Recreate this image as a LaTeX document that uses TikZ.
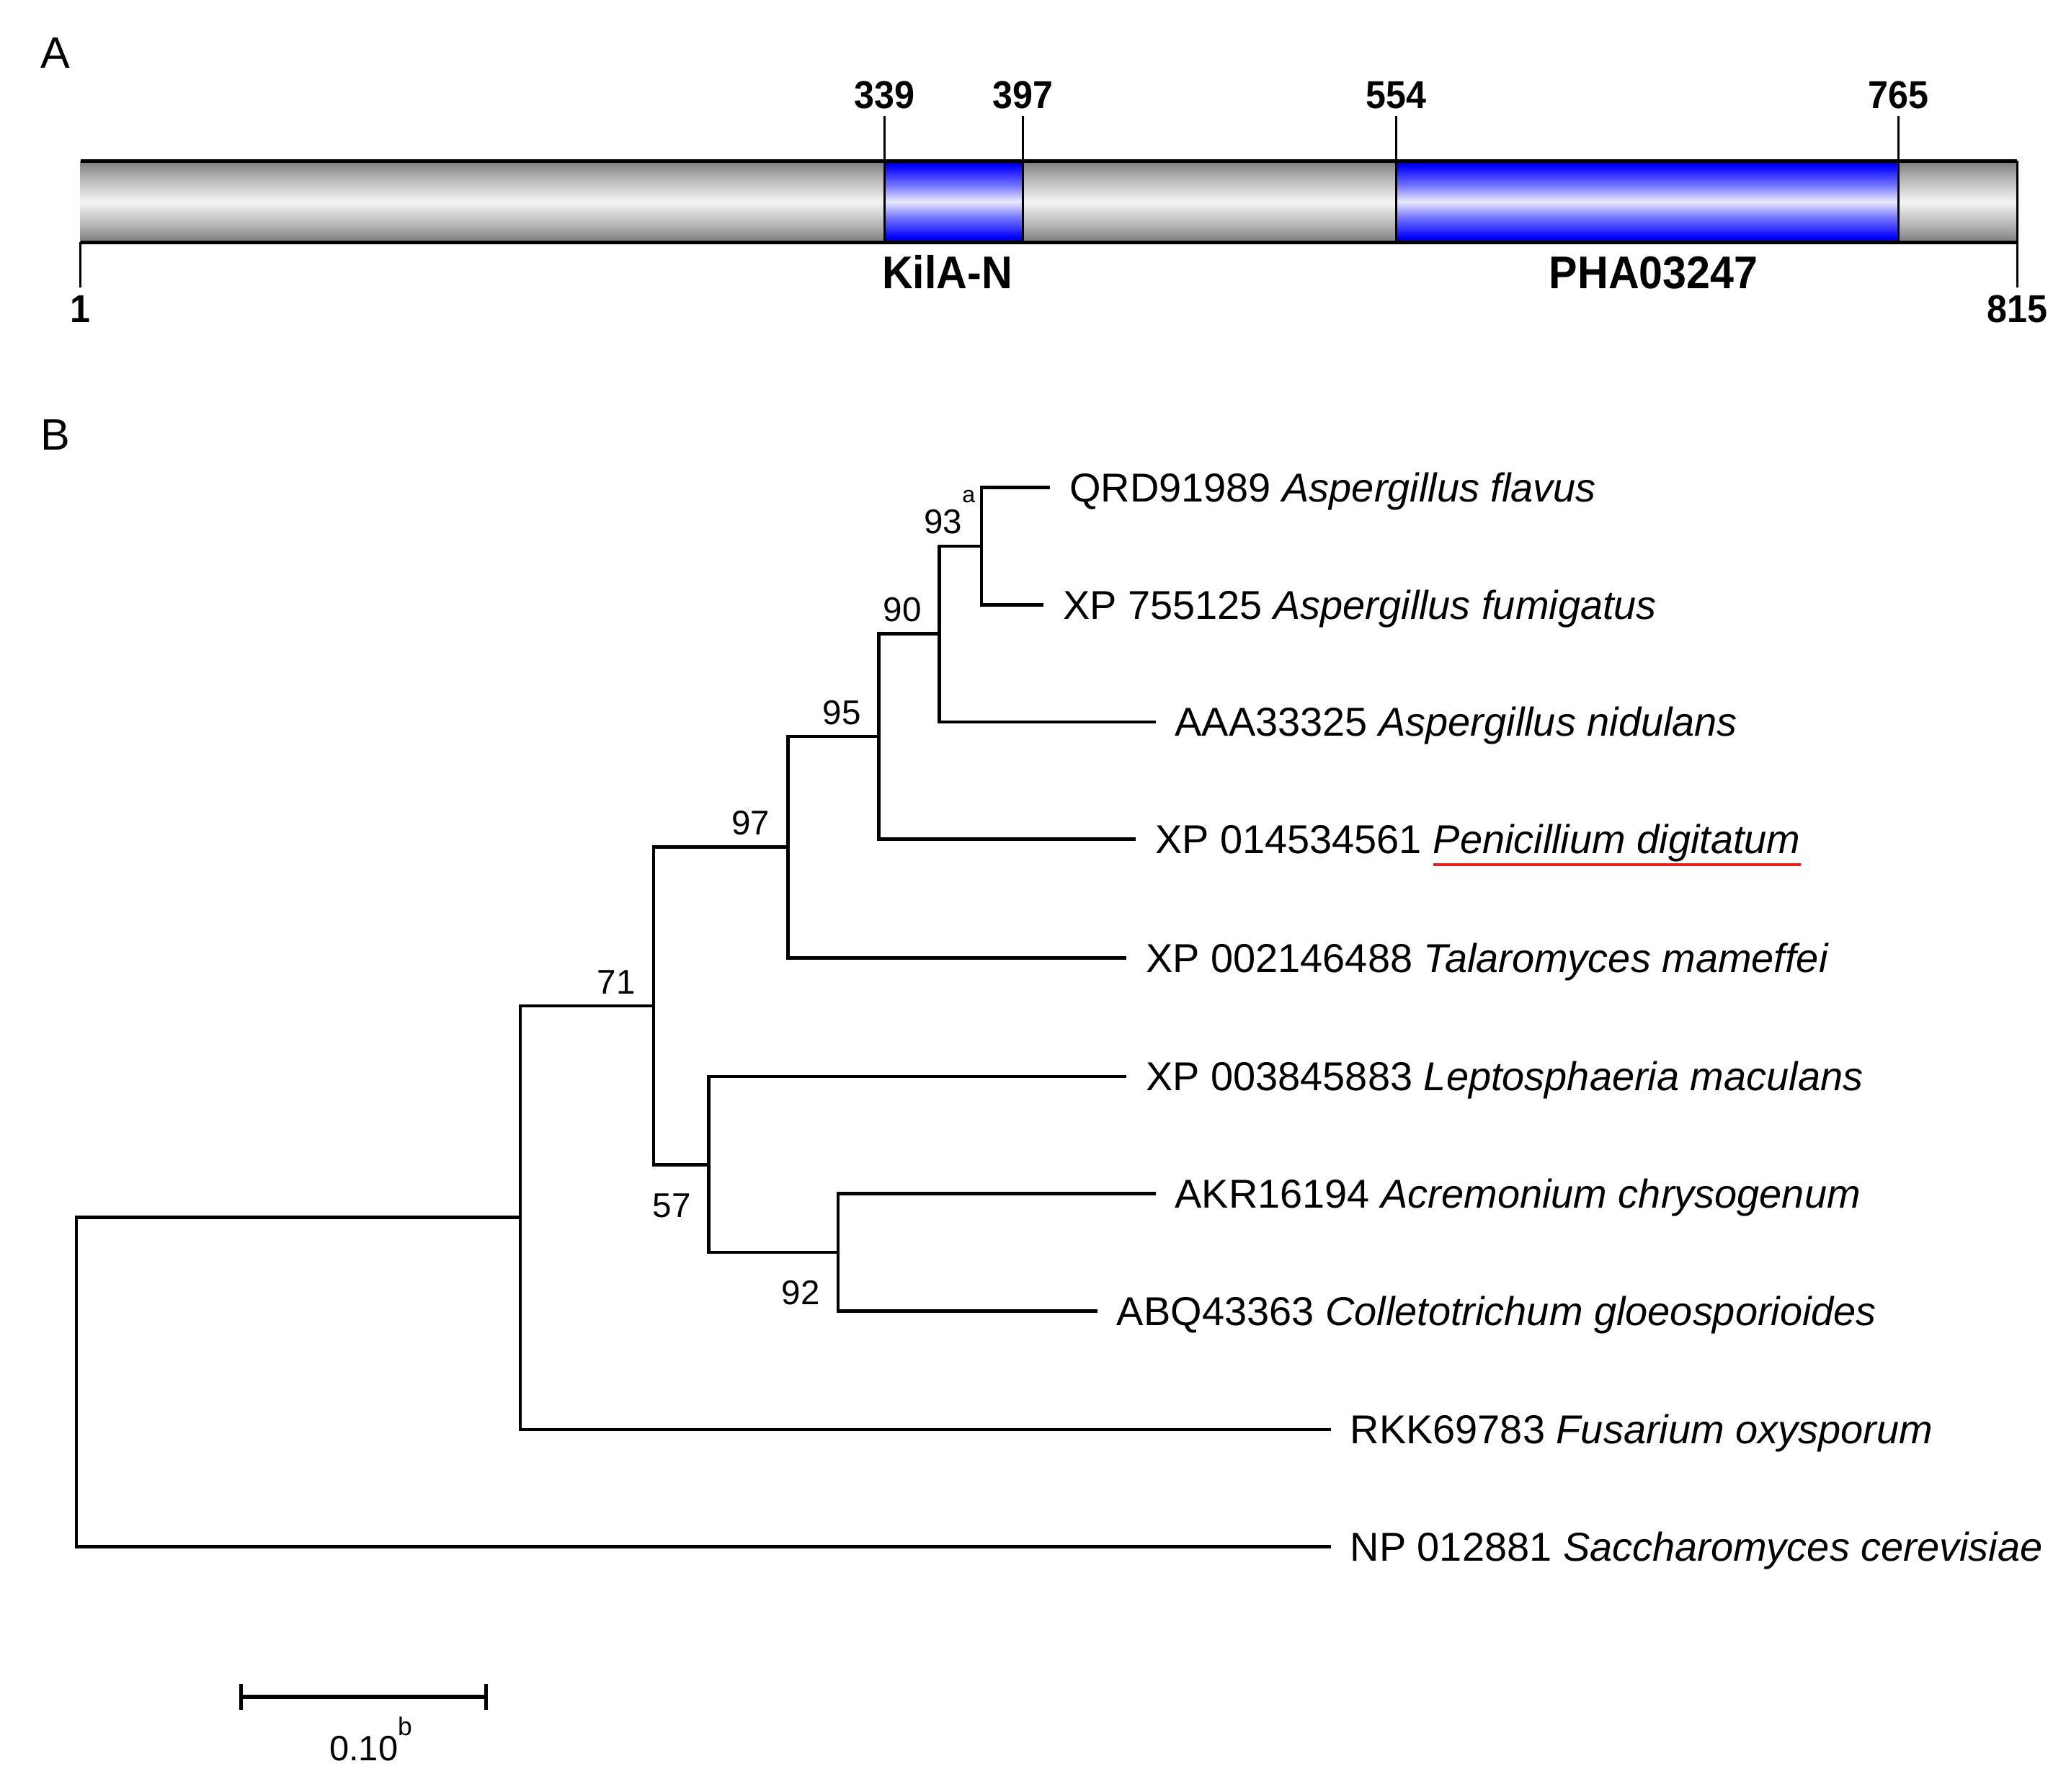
\documentclass[tikz,border=0pt]{standalone}
\usepackage{fontspec}
\setmainfont{Liberation Sans}
\newfontfamily\narrowsans[FakeStretch=0.93]{Liberation Sans}
\usepackage{tikz}
\usetikzlibrary{positioning}

\definecolor{markred}{RGB}{228,32,32}

% shadings for the protein bar
\pgfdeclareverticalshading{graybar}{100bp}{color(0bp)=(black!52); color(25bp)=(black!52);
  color(34bp)=(black!32); color(50bp)=(white!96!black); color(66bp)=(black!32);
  color(75bp)=(black!52); color(100bp)=(black!52)}
\pgfdeclareverticalshading{bluebar}{100bp}{color(0bp)=(blue!45!black); color(25bp)=(blue!45!black);
  color(28bp)=(blue); color(40bp)=(blue!55!white); color(50bp)=(blue!8!white);
  color(60bp)=(blue!55!white); color(72bp)=(blue); color(75bp)=(blue!45!black); color(100bp)=(blue!45!black)}

\newsavebox\ulbox
\newcommand{\redunder}[1]{\sbox\ulbox{#1}\rlap{\color{markred}\rule[-2.7pt]{\wd\ulbox}{0.65pt}}\usebox\ulbox}

\tikzstyle{panel}=[font=\fontsize{9.5}{11}\selectfont, inner sep=0pt]
\tikzstyle{num}=[font=\narrowsans\bfseries\fontsize{8.4}{10}\selectfont
,inner xsep=0pt, inner ysep=0.05cm
,text height=6pt, text depth=0pt
]
\tikzstyle{domlabel}=[font=\narrowsans\bfseries\fontsize{9.9}{12}\selectfont, inner sep=0pt, text depth=0pt]
\tikzstyle{tick}=[draw, line width=0.45pt]
\tikzstyle{barline}=[draw, line width=0.8pt]
\tikzstyle{leaf}=[anchor=west, font=\fontsize{8.7}{10}\selectfont
,inner xsep=0.14cm, inner ysep=0pt
,text height=6.2pt, text depth=0pt
]
\tikzstyle{boot}=[font=\fontsize{7.4}{9}\selectfont, inner sep=0pt, text height=5.3pt, text depth=0pt]
\tikzstyle{branch}=[draw, line width=0.7pt]
\tikzstyle{scalebar}=[draw, line width=0.85pt]

\begin{document}
\begin{tikzpicture}[x=0.01cm,y=-0.01cm]
    \useasboundingbox (0,0) rectangle (1568,1360);

    % A: domain map of the protein
    \node[panel] (pA) at (42,40) {A};
    \coordinate (barbot) at (0,184);
    \foreach \xa/\xb/\sh in {61/671/graybar, 671/776/bluebar, 776/1059/graybar, 1059/1440/bluebar, 1440/1531/graybar}
        \shade[shading=\sh] (\xa,122) rectangle (\xb,184);

    \foreach \res in {339,397,554,765}{
        \pgfmathsetmacro\xr{61+(\res-1)/814*1470}
        \node[num, anchor=south] (t\res) at (\xr,88) {\res};
        \path[tick] (t\res.south) -- (t\res.south |- barbot);
    }
    \node[num, anchor=north] (t1) at (61,218) {1};
    \node[num, anchor=north] (t815) at (1531,218) {815};
    \path[tick] (t1.north) -- (t1.north |- barbot);
    \path[tick] (t815.north) -- (1531,122);
    \path[barline] (61,122) -- (1531,122);
    \path[barline] (61,184) -- (1531,184);

    \node[domlabel, anchor=base] (kila) at (719,219) {KilA-N};
    \node[domlabel, anchor=base] (pha) at (1255,219) {PHA03247};

    % B: the tree
    \node[panel] (pB) at (42,330) {B};

    % First the inner nodes
    \coordinate (n1) at (745,414.5);
    \coordinate (n2) at (713,481);
    \coordinate (n3) at (667,559);
    \coordinate (n4) at (598,643);
    \coordinate (n5) at (636,950.5);
    \coordinate (n6) at (538,884);
    \coordinate (n7) at (496,763.5);
    \coordinate (n8) at (395,924);
    \coordinate (root) at (58,1049);

    % then the leaves
    \node[leaf] (flav) at (797,370) {QRD91989 \textit{Aspergillus flavus}};
    \node[leaf] (fum) at (792,459) {XP 755125 \textit{Aspergillus fumigatus}};
    \node[leaf] (nid) at (877,548) {AAA33325 \textit{Aspergillus nidulans}};
    \node[leaf] (pen) at (862,637) {XP 014534561 \redunder{\textit{Penicillium digitatum}}};
    \node[leaf] (tal) at (855,727) {XP 002146488 \textit{Talaromyces mameffei}};
    \node[leaf] (lep) at (855,817) {XP 003845883 \textit{Leptosphaeria maculans}};
    \node[leaf] (acr) at (877,906) {AKR16194 \textit{Acremonium chrysogenum}};
    \node[leaf] (col) at (833,995) {ABQ43363 \textit{Colletotrichum gloeosporioides}};
    \node[leaf] (fus) at (1010,1085) {RKK69783 \textit{Fusarium oxysporum}};
    \node[leaf] (sac) at (1010,1174) {NP 012881 \textit{Saccharomyces cerevisiae}};

    % Connect them with branches
    \foreach \parent/\child in {n1/flav, n1/fum, n2/n1, n2/nid, n3/n2, n3/pen, n4/n3, n4/tal,
        n5/acr, n5/col, n6/lep, n6/n5, n7/n4, n7/n6, n8/n7, n8/fus, root/n8, root/sac}
        \path[branch] (\parent) |- (\child);

    % bootstrap values
    \node[boot, above left=0.09cm and 0.14cm of n1] (b93) {93\rlap{\raisebox{6.6pt}{\fontsize{5}{5}\selectfont a}}};
    \node[boot, above left=0.085cm and 0.13cm of n2] (b90) {90};
    \node[boot, above left=0.085cm and 0.13cm of n3] (b95) {95};
    \node[boot, above left=0.085cm and 0.13cm of n4] (b97) {97};
    \node[boot, above left=0.085cm and 0.13cm of n7] (b71) {71};
    \node[boot, below left=0.205cm and 0.13cm of n6] (b57) {57};
    \node[boot, below left=0.205cm and 0.13cm of n5] (b92) {92};

    % scale bar
    \coordinate (sbl) at (183,1288);
    \coordinate (sbr) at (369,1288);
    \path[scalebar] (sbl) -- coordinate[midway] (sbm) (sbr);
    \path[scalebar] (sbl) ++(0,-10) -- ++(0,20);
    \path[scalebar] (sbr) ++(0,-10) -- ++(0,20);
    \node[boot, below=0.29cm of sbm, font=\fontsize{7.6}{9}\selectfont] (sblab) {0.10\rlap{\raisebox{5.5pt}{\fontsize{5.5}{6}\selectfont b}}};
\end{tikzpicture}
\end{document}
